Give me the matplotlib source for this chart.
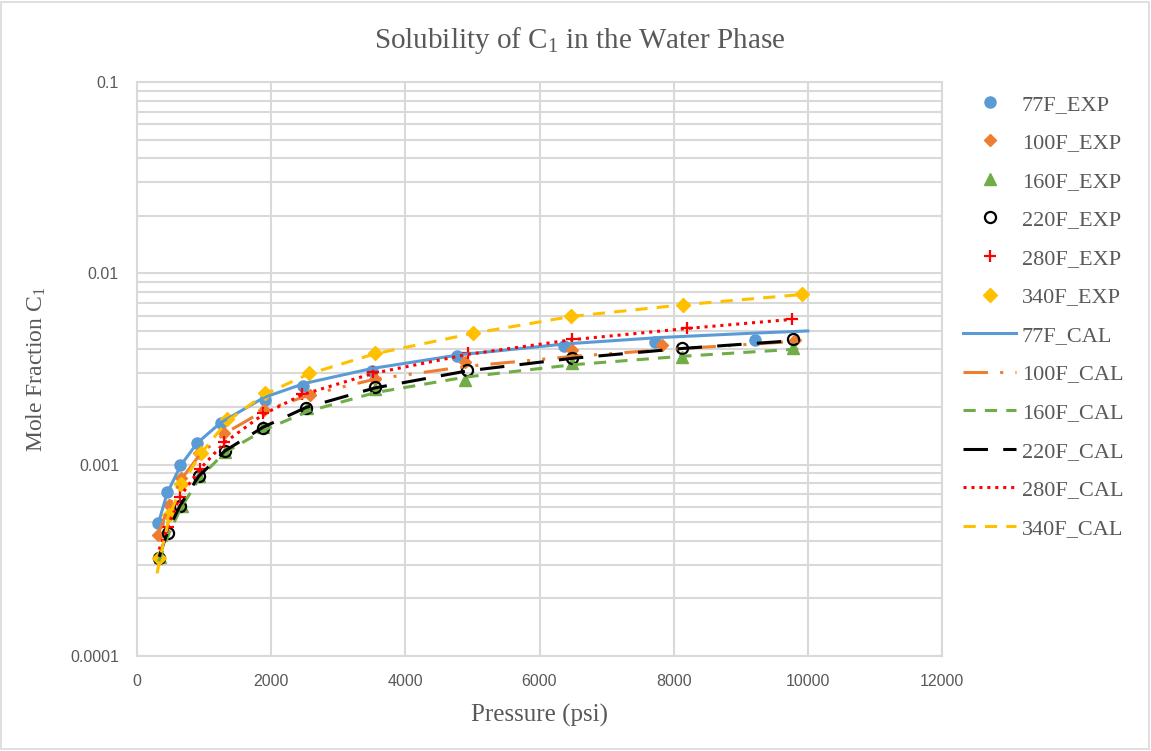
import numpy as np
import matplotlib
matplotlib.use('Agg')
import matplotlib.pyplot as plt
from matplotlib.ticker import FixedLocator, FixedFormatter, NullFormatter
from matplotlib.patches import Rectangle

p77_exp = [313, 447, 641, 894, 1252, 1908, 2475, 3503, 4770, 6366, 7722, 9213]
x77_exp = [0.000495, 0.000719, 0.000995, 0.00130, 0.00165, 0.00218, 0.00258, 0.00309, 0.00370, 0.00417, 0.00438, 0.00448]

p100_exp = [320, 470, 650, 930, 1300, 1900, 2580, 3550, 4890, 6485, 7830, 9810]
x100_exp = [0.00043, 0.000615, 0.00085, 0.00115, 0.00146, 0.00193, 0.00231, 0.00280, 0.00343, 0.00397, 0.00422, 0.00448]

p160_exp = [343, 671, 924, 1312, 1878, 2534, 3548, 4890, 6485, 8125, 9780]
x160_exp = [0.000329, 0.000608, 0.000872, 0.00116, 0.00157, 0.00198, 0.00249, 0.00277, 0.00340, 0.00365, 0.00407]

p220_exp = [328, 462, 641, 924, 1312, 1878, 2519, 3548, 4920, 6485, 8125, 9780]
x220_exp = [0.000325, 0.000439, 0.000608, 0.000872, 0.00118, 0.00155, 0.00198, 0.00254, 0.00312, 0.00360, 0.00407, 0.00454]

p280_exp = [462, 641, 939, 1297, 1878, 2460, 3518, 4934, 6485, 8199, 9765]
x280_exp = [0.000472, 0.000677, 0.000948, 0.00131, 0.00186, 0.00234, 0.00305, 0.00383, 0.00454, 0.00518, 0.00577]

p340_exp = [328, 477, 656, 954, 1342, 1908, 2564, 3548, 5009, 6470, 8140, 9913]
x340_exp = [0.000325, 0.000546, 0.000793, 0.00115, 0.00173, 0.00237, 0.00301, 0.00383, 0.00488, 0.00598, 0.00683, 0.00780]

# calculated curves
p77_cal = [300, 450, 650, 900, 1250, 1900, 2500, 3500, 4800, 6400, 7800, 9200, 10000]
x77_cal = [0.00047, 0.00071, 0.00099, 0.00130, 0.00166, 0.00225, 0.00266, 0.00318, 0.00375, 0.00428, 0.00462, 0.00487, 0.00500]

p100_cal = [300, 470, 650, 930, 1300, 1900, 2580, 3550, 4930, 6500, 7900, 10000]
x100_cal = [0.00042, 0.00060, 0.00083, 0.00112, 0.00145, 0.00192, 0.00232, 0.00280, 0.00327, 0.00368, 0.00400, 0.00445]

p160_cal = [320, 480, 650, 930, 1300, 1900, 2550, 3550, 4900, 6500, 8100, 10000]
x160_cal = [0.00031, 0.00044, 0.00059, 0.00085, 0.00115, 0.00152, 0.00190, 0.00238, 0.00287, 0.00333, 0.00368, 0.00405]

p220_cal = [330, 460, 640, 920, 1310, 1880, 2520, 3550, 4920, 6500, 8130, 9800]
x220_cal = [0.00033, 0.00045, 0.00061, 0.00087, 0.00118, 0.00157, 0.00199, 0.00252, 0.00309, 0.00360, 0.00405, 0.00445]

p280_cal = [330, 460, 640, 940, 1300, 1880, 2460, 3520, 4930, 6490, 8200, 9770]
x280_cal = [0.00036, 0.00048, 0.00068, 0.00095, 0.00130, 0.00183, 0.00232, 0.00300, 0.00377, 0.00450, 0.00515, 0.00575]

p340_cal = [300, 330, 480, 660, 950, 1340, 1900, 2560, 3550, 5000, 6470, 8140, 10000]
x340_cal = [0.00027, 0.00031, 0.00053, 0.00078, 0.00114, 0.00168, 0.00233, 0.00298, 0.00380, 0.00485, 0.00595, 0.00685, 0.00780]

x_ticks = [0, 2000, 4000, 6000, 8000, 10000, 12000]
y_ticks = [0.0001, 0.001, 0.01, 0.1]
y_tick_labels = ['0.0001', '0.001', '0.01', '0.1']

plt.rcParams['mathtext.fontset'] = 'custom'
plt.rcParams['mathtext.rm'] = 'Liberation Serif'
plt.rcParams['mathtext.it'] = 'Liberation Serif:italic'

serif = ['Liberation Serif', 'DejaVu Serif']
sans = ['Liberation Sans Narrow', 'Liberation Sans', 'DejaVu Sans']
grey = '#595959'
gridc = '#d9d9d9'

fig = plt.figure(figsize=(11.51, 7.51), dpi=100)
ax = fig.add_axes([137 / 1151, 1 - 656 / 751, (942 - 137) / 1151, (656 - 82) / 751])

# chart border
fig.patches.append(Rectangle((0.001, 0.002), 0.997, 0.996, transform=fig.transFigure,
                             fill=False, edgecolor=gridc, linewidth=1.2))

# experimental points
ax.plot(p77_exp, x77_exp, 'o', color='#5B9BD5', ms=8, label='77F_EXP', zorder=3)
ax.plot(p100_exp, x100_exp, 'D', color='#ED7D31', ms=6, label='100F_EXP', zorder=3)
ax.plot(p160_exp, x160_exp, '^', color='#70AD47', ms=8, label='160F_EXP', zorder=3)
ax.plot(p220_exp, x220_exp, 'o', mfc='none', mec='black', mew=1.6, ms=8, label='220F_EXP', zorder=3)
ax.plot(p280_exp, x280_exp, '+', color='#FF0000', ms=9, mew=1.6, label='280F_EXP', zorder=3)
ax.plot(p340_exp, x340_exp, 'D', color='#FFC000', ms=7, label='340F_EXP', zorder=3)

# calculated curves
ax.plot(p77_cal, x77_cal, '-', color='#5B9BD5', lw=2.2, label='77F_CAL', zorder=4)
ax.plot(p100_cal, x100_cal, color='#ED7D31', lw=2.2, dashes=(8, 4, 1, 4, 1, 4), label='100F_CAL', zorder=4)
ax.plot(p160_cal, x160_cal, color='#70AD47', lw=2.2, dashes=(4, 3), label='160F_CAL', zorder=4)
ax.plot(p220_cal, x220_cal, color='black', lw=2.2, dashes=(8, 5), label='220F_CAL', zorder=4)
ax.plot(p280_cal, x280_cal, color='#FF0000', lw=2.2, dashes=(1, 1.6), label='280F_CAL', zorder=4)
ax.plot(p340_cal, x340_cal, color='#FFC000', lw=2.2, dashes=(4, 3), label='340F_CAL', zorder=4)

ax.set_yscale('log')
ax.set_xlim(0, 12000)
ax.set_ylim(0.0001, 0.1)

ax.xaxis.set_major_locator(FixedLocator(x_ticks))
ax.yaxis.set_major_locator(FixedLocator(y_ticks))
ax.yaxis.set_major_formatter(FixedFormatter(y_tick_labels))
minor = [m * 10.0 ** e for e in range(-4, -1) for m in range(2, 10)]
ax.yaxis.set_minor_locator(FixedLocator(minor))
ax.yaxis.set_minor_formatter(NullFormatter())

ax.grid(True, which='major', color=gridc, lw=1.5)
ax.grid(True, which='minor', axis='y', color=gridc, lw=1.5)
ax.set_axisbelow(True)
for s in ax.spines.values():
    s.set_color(gridc)
    s.set_linewidth(1.5)
ax.tick_params(which='both', length=0, colors=grey, labelsize=11.5, pad=13)
for lab in ax.get_xticklabels() + ax.get_yticklabels():
    lab.set_family(sans)

# title is centred on the whole chart area, not on the plot area
fig.text(580 / 1151, 1 - 41 / 751, 'Solubility of C$_1$ in the Water Phase', family=serif,
         fontsize=21, color=grey, ha='center', va='center')
ax.set_xlabel('Pressure (psi)', family=serif, fontsize=18, color=grey, labelpad=11)
ax.set_ylabel('Mole Fraction C$_1$', family=serif, fontsize=17, color=grey, labelpad=16)

leg = ax.legend(loc='upper left', bbox_to_anchor=(1.026, 0.979), frameon=False,
                prop={'family': serif, 'size': 16}, labelspacing=0.81,
                handlelength=2.4, handletextpad=0.25, borderaxespad=0, borderpad=0)
for t in leg.get_texts():
    t.set_color(grey)

fig.savefig('out.png', dpi=100)
